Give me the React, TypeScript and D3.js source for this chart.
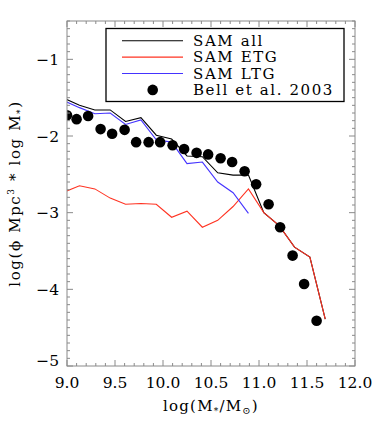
import React, { useEffect, useRef } from "react";
import * as d3 from "d3";

// SAM mass function bins (log M*/Msun) and values
const samX = [8.97, 9.13, 9.29, 9.45, 9.61, 9.77, 9.93, 10.09, 10.25, 10.41, 10.57, 10.73, 10.89, 11.05, 11.21, 11.37, 11.53, 11.69];
const samAll = [-1.51, -1.6, -1.66, -1.66, -1.81, -1.76, -1.99, -2.04, -2.26, -2.27, -2.48, -2.51, -2.51, -3.0, -3.17, -3.45, -3.58, -4.39];
const samEtg = [-2.73, -2.65, -2.69, -2.81, -2.89, -2.88, -2.89, -3.06, -2.98, -3.19, -3.1, -2.92, -2.69, -3.0, -3.17, -3.45, -3.58, -4.39];
const samLtg = [-1.54, -1.63, -1.71, -1.7, -1.85, -1.79, -2.05, -2.08, -2.36, -2.34, -2.6, -2.74, -3.01];

// Bell et al. 2003
const bellX = [9.0, 9.1, 9.22, 9.35, 9.47, 9.6, 9.72, 9.85, 9.97, 10.1, 10.22, 10.35, 10.47, 10.6, 10.72, 10.85, 10.97, 11.1, 11.22, 11.35, 11.47, 11.6];
const bellY = [-1.73, -1.78, -1.74, -1.91, -1.97, -1.92, -2.08, -2.08, -2.08, -2.12, -2.17, -2.22, -2.24, -2.29, -2.34, -2.46, -2.63, -2.89, -3.19, -3.56, -3.93, -4.41];

const xTicks = [9.0, 9.5, 10.0, 10.5, 11.0, 11.5, 12.0];
const yTicks = [-1, -2, -3, -4, -5];

const legendNames = ["SAM all", "SAM ETG", "SAM LTG", "Bell et al. 2003"];
const lineColors = ["#000000", "#ff3322", "#4433ff"];

const FONT = "'DejaVu Serif', serif";

export default function App() {
  const ref = useRef<SVGSVGElement>(null);

  useEffect(() => {
    const W = 374, H = 421;
    const margin = { top: 21, right: 19, bottom: 55, left: 67 };
    const svg = d3.select(ref.current);
    svg.selectAll("*").remove();

    const x = d3.scaleLinear().domain([9, 12]).range([margin.left, W - margin.right]);
    const y = d3.scaleLinear().domain([-5, -0.5]).range([H - margin.bottom, margin.top]);
    const [x0, x1] = x.range();
    const [y1, y0] = y.range();

    svg.append("defs").append("clipPath").attr("id", "plotclip")
      .append("rect").attr("x", x0).attr("y", y0).attr("width", x1 - x0).attr("height", y1 - y0);

    const plot = svg.append("g").attr("clip-path", "url(#plotclip)");

    const line = d3.line<[number, number]>().x(d => x(d[0])).y(d => y(d[1]));
    const series = [samAll, samEtg, samLtg];
    series.forEach((vals, i) => {
      plot.append("path")
        .datum(vals.map((v, j) => [samX[j], v] as [number, number]))
        .attr("d", line)
        .attr("fill", "none")
        .attr("stroke", lineColors[i])
        .attr("stroke-width", 1.1);
    });

    plot.selectAll("circle.bell").data(bellX).join("circle")
      .attr("class", "bell")
      .attr("cx", d => x(d))
      .attr("cy", (d, i) => y(bellY[i]))
      .attr("r", 5.3)
      .attr("fill", "#000");

    // frame
    const axisColor = "#8a8a8a";
    svg.append("rect")
      .attr("x", x0).attr("y", y0).attr("width", x1 - x0).attr("height", y1 - y0)
      .attr("fill", "none").attr("stroke", axisColor).attr("stroke-width", 1);

    // ticks on all sides
    const ticks = svg.append("g").attr("stroke", axisColor).attr("stroke-width", 1);
    const xMinor = d3.range(90, 121).map(d => d / 10);
    xMinor.forEach(v => {
      const major = Math.abs(v * 2 - Math.round(v * 2)) < 1e-6;
      const len = major ? 6 : 3;
      const px = x(v);
      ticks.append("line").attr("x1", px).attr("x2", px).attr("y1", y1).attr("y2", y1 - len);
      ticks.append("line").attr("x1", px).attr("x2", px).attr("y1", y0).attr("y2", y0 + len);
    });
    const yMinor = d3.range(-50, -4).map(d => d / 10);
    yMinor.forEach(v => {
      const major = Math.abs(v - Math.round(v)) < 1e-6;
      const len = major ? 6 : 3;
      const py = y(v);
      ticks.append("line").attr("x1", x0).attr("x2", x0 + len).attr("y1", py).attr("y2", py);
      ticks.append("line").attr("x1", x1).attr("x2", x1 - len).attr("y1", py).attr("y2", py);
    });

    // tick labels
    svg.selectAll("text.xt").data(xTicks).join("text")
      .attr("class", "xt")
      .attr("x", d => x(d))
      .attr("y", y1 + 22)
      .attr("text-anchor", "middle")
      .attr("font-family", FONT)
      .attr("font-size", 15.5)
      .text(d => d.toFixed(1));

    svg.selectAll("text.yt").data(yTicks).join("text")
      .attr("class", "yt")
      .attr("x", x0 - 8)
      .attr("y", d => Math.min(y(d), y1 - 6) + 5.5)
      .attr("text-anchor", "end")
      .attr("font-family", FONT)
      .attr("font-size", 15.5)
      .text(d => "\u2212" + Math.abs(d));

    // axis titles
    const xl = svg.append("text")
      .attr("x", (x0 + x1) / 2).attr("y", 411)
      .attr("text-anchor", "middle")
      .attr("font-family", FONT).attr("font-size", 15)
      .attr("letter-spacing", 1.2);
    xl.append("tspan").text("log(M");
    xl.append("tspan").attr("font-size", 9).attr("dy", 3).text("*");
    xl.append("tspan").attr("dy", -3).text("/M");
    xl.append("tspan").attr("font-size", 10).attr("dy", 3).text("\u2299");
    xl.append("tspan").attr("dy", -3).text(")");

    const yl = svg.append("text")
      .attr("transform", `translate(20, ${(y0 + y1) / 2}) rotate(-90)`)
      .attr("text-anchor", "middle")
      .attr("font-family", FONT).attr("font-size", 15)
      .attr("letter-spacing", 1.6);
    yl.append("tspan").text("log(\u03d5 Mpc");
    yl.append("tspan").attr("font-size", 9).attr("dy", -6).text("3");
    yl.append("tspan").attr("dy", 6).text(" * log M");
    yl.append("tspan").attr("font-size", 9).attr("dy", 3).text("*");
    yl.append("tspan").attr("dy", -3).text(")");

    // legend
    const lg = svg.append("g");
    lg.append("rect")
      .attr("x", 106).attr("y", 28.5).attr("width", 238).attr("height", 73)
      .attr("fill", "#fff").attr("stroke", "#000").attr("stroke-width", 1.3);
    const rowY = (i: number) => 40.7 + i * 16.4;
    legendNames.forEach((name, i) => {
      if (i < 3) {
        lg.append("line")
          .attr("x1", 122).attr("x2", 183)
          .attr("y1", rowY(i)).attr("y2", rowY(i))
          .attr("stroke", lineColors[i]).attr("stroke-width", 1.1);
      } else {
        lg.append("circle").attr("cx", 152.7).attr("cy", rowY(i)).attr("r", 5.3).attr("fill", "#000");
      }
      lg.append("text")
        .attr("x", 193).attr("y", rowY(i) + 5)
        .attr("font-family", FONT).attr("font-size", 15)
        .attr("letter-spacing", 1.6)
        .text(name);
    });
  }, []);

  return (
    <svg ref={ref} width={374} height={421}
      style={{ position: "absolute", left: 0, top: 0, background: "#fff" }} />
  );
}
